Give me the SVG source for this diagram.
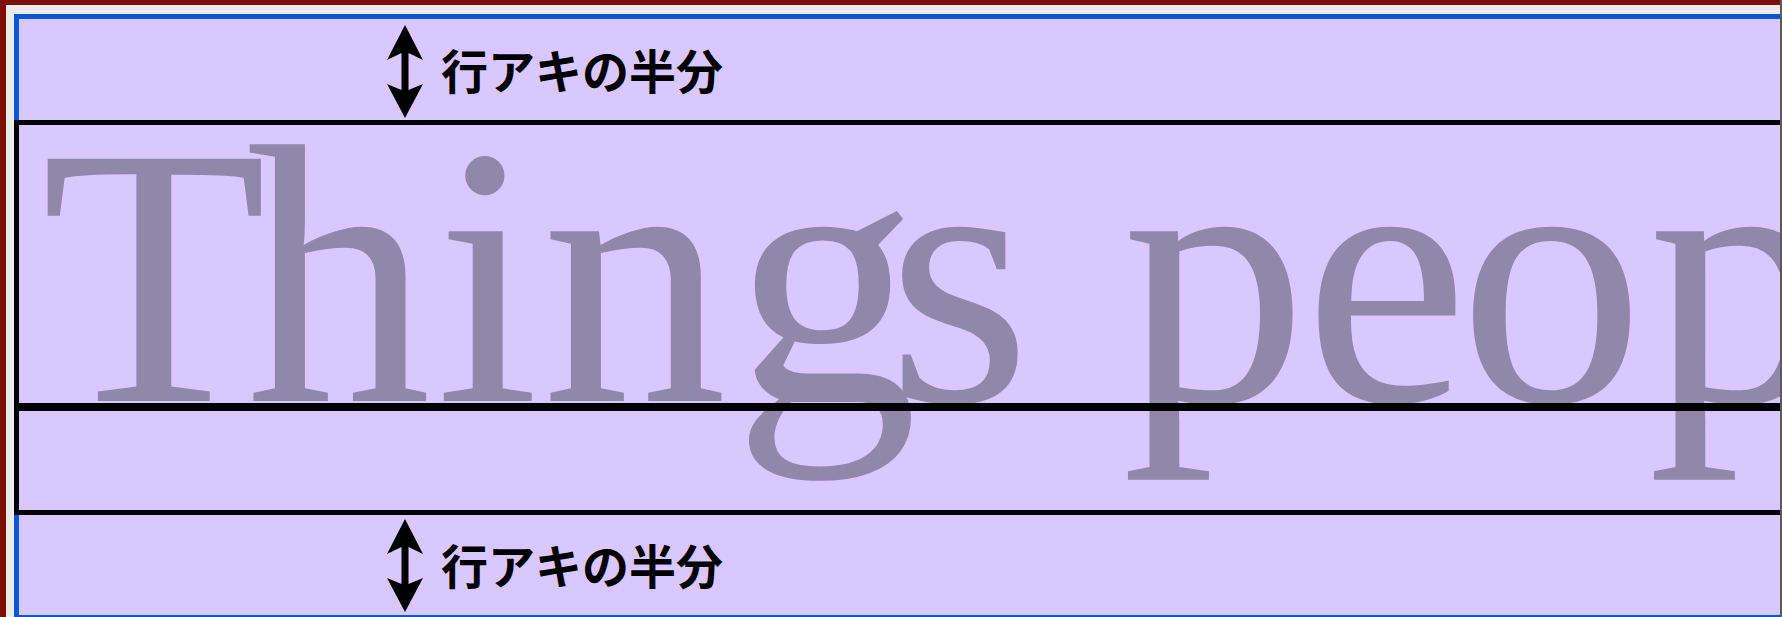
<svg xmlns="http://www.w3.org/2000/svg" width="1782" height="617" viewBox="0 0 1782 617">
  <style>
    .frame { fill: none; stroke: #000000; stroke-width: 5; }
    .sample { font-size: 370px; fill: #9187aa; }
    .label { font-size: 47px; font-weight: 700; fill: #000000; }
    .arrow { fill: #000000; }
  </style>
  <defs>
    <path id="dblArrow" class="arrow" d="M405,25 L423,60 L408.5,53 L408.5,90 L423,84 L405,118 L387,84 L401.5,90 L401.5,53 L387,60 Z"/>
  </defs>

  <g id="page">
    <rect x="0" y="0" width="1782" height="617" fill="#ebebeb"/>
    <rect x="0" y="0" width="1782" height="5" fill="#7a1006"/>
    <rect x="0" y="0" width="6" height="617" fill="#7a1006"/>
    <rect x="14" y="14" width="1800" height="620" fill="#0057d9"/>
    <rect x="19" y="19" width="1800" height="596" fill="#d9c8ff"/>
  </g>

  <g id="sample-text">
    <text class="sample" font-family="'Liberation Serif', 'Times New Roman', Times, serif" x="41 246 436 542 733 887 1030 1122 1304 1459 1648" y="401">Things peop</text>
  </g>

  <g id="content-area">
    <rect class="frame" x="16.5" y="122.5" width="1800" height="283"/>
  </g>

  <g id="lower-area">
    <rect class="frame" x="16.5" y="408.5" width="1800" height="104"/>
  </g>

  <g id="half-leading-top">
    <text class="label" font-family="'Noto Sans CJK JP', 'Noto Sans CJK SC', sans-serif" x="441" y="89">行アキの半分</text>
  </g>

  <g id="half-leading-bottom">
    <text class="label" font-family="'Noto Sans CJK JP', 'Noto Sans CJK SC', sans-serif" x="441" y="584">行アキの半分</text>
  </g>

  <g id="connectors">
    <use href="#dblArrow"/>
    <use href="#dblArrow" transform="translate(0,494)"/>
  </g>

  <g id="edge">
    <rect x="1780" y="0" width="2" height="617" fill="#5a5a5a"/>
  </g>
</svg>
